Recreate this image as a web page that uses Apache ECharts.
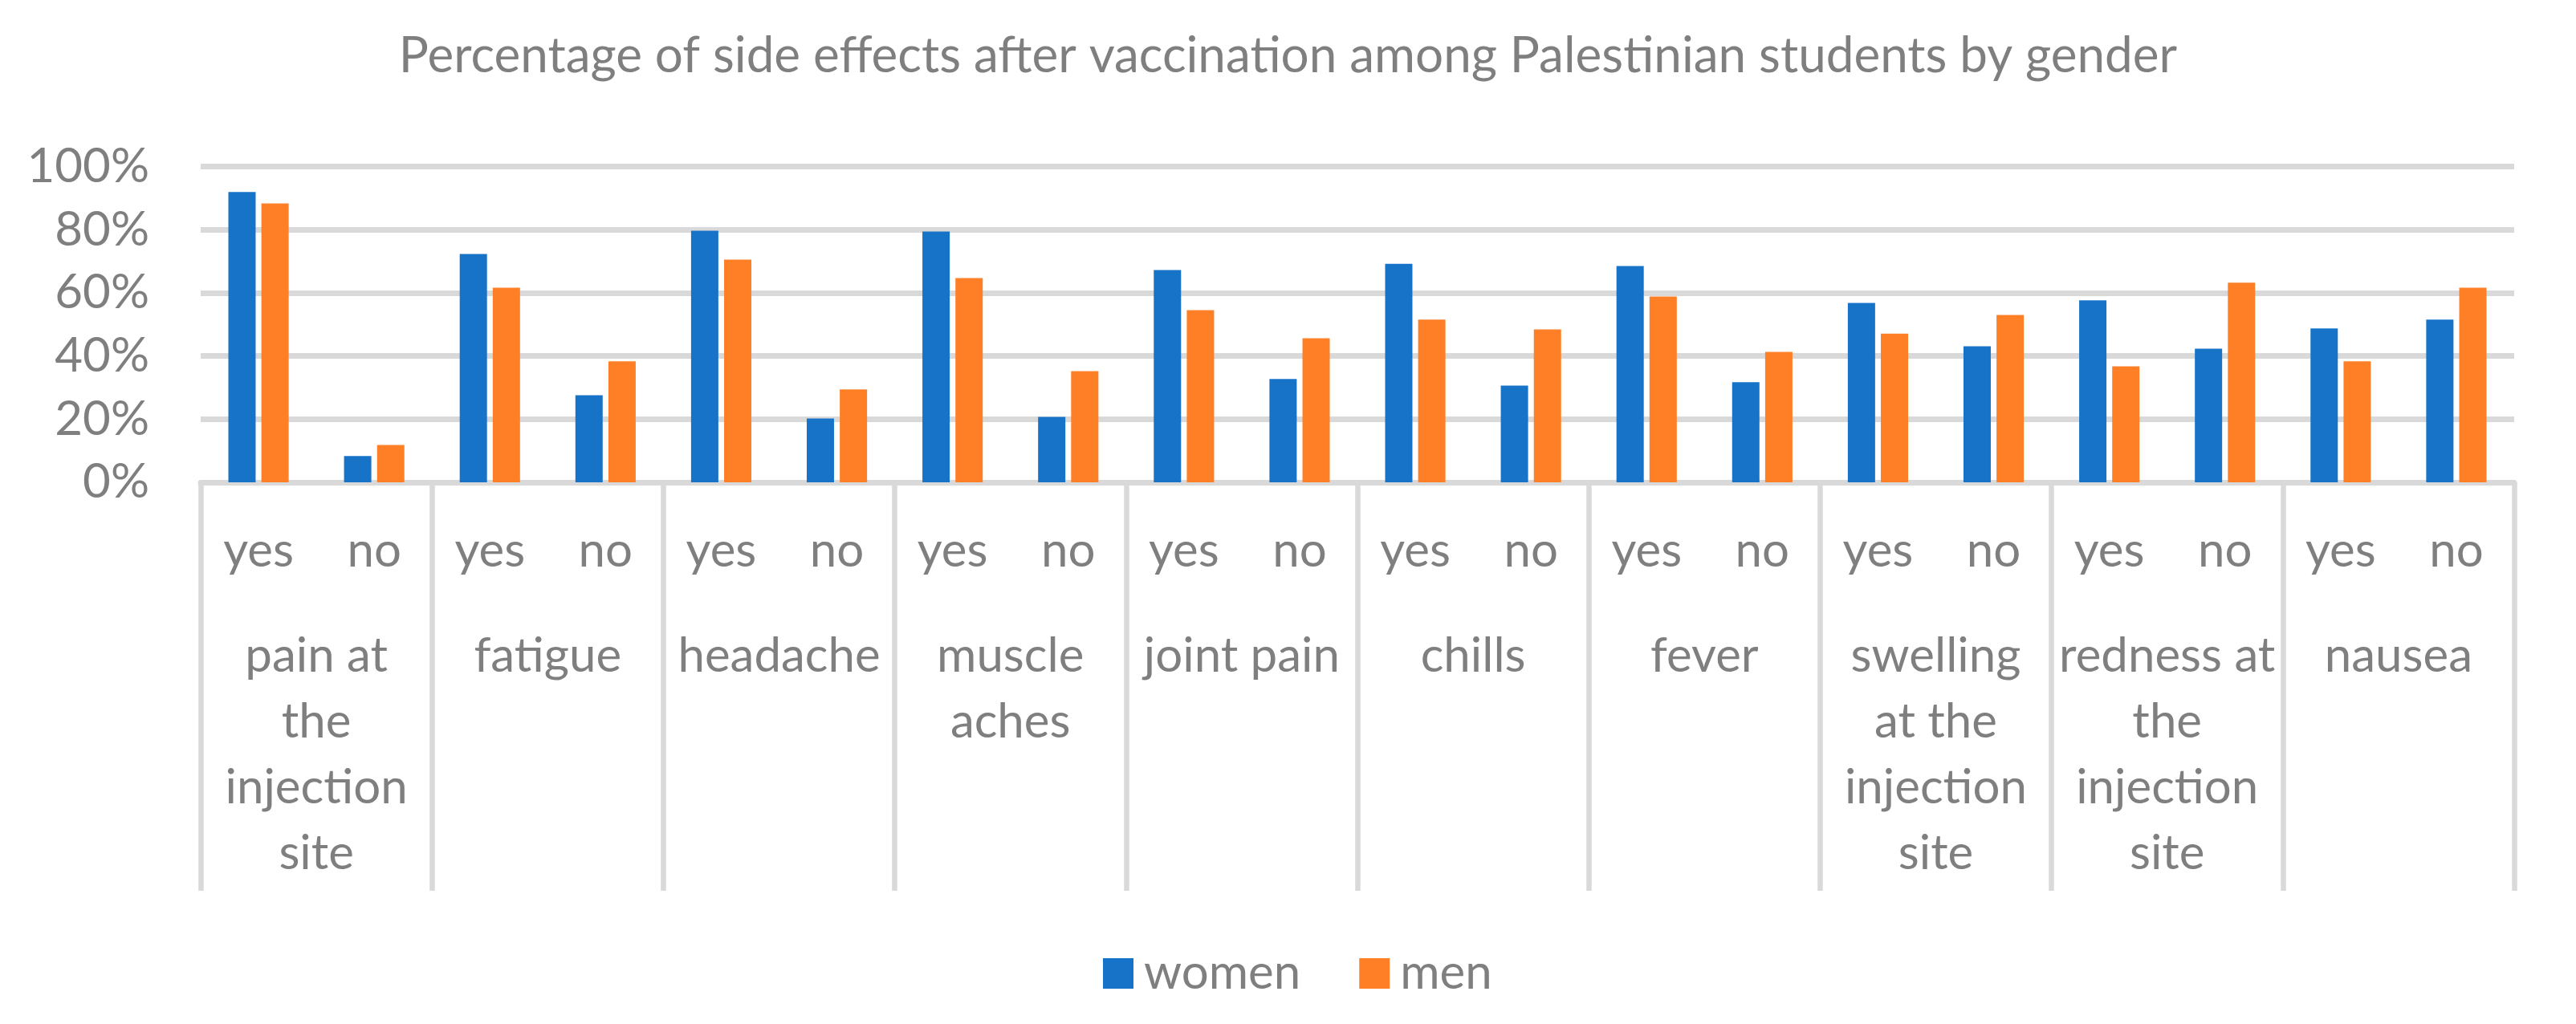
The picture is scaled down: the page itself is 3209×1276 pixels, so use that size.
<!DOCTYPE html>
<html>
<head>
<meta charset="utf-8">
<script src="https://cdn.jsdelivr.net/npm/echarts@6/dist/echarts.min.js"></script>
<style>
html,body{margin:0;padding:0;background:#fff;}
#chart{width:3209px;height:1276px;}
</style>
</head>
<body>
<div id="chart"></div>
<script>
// ---- data ----
var titleText = 'Percentage of side effects after vaccination among Palestinian students by gender';
var groups = ['pain at\nthe\ninjection\nsite', 'fatigue', 'headache', 'muscle\naches', 'joint pain', 'chills', 'fever', 'swelling\nat the\ninjection\nsite', 'redness at\nthe\ninjection\nsite', 'nausea'];
var answers = ['yes', 'no'];
var seriesNames = ['women', 'men'];
var women = [91.9, 8.3, 72.3, 27.6, 79.7, 20.2, 79.4, 20.7, 67.2, 32.7, 69.2, 30.6, 68.5, 31.7, 56.8, 43.1, 57.6, 42.3, 48.7, 51.5];
var men   = [88.3, 11.8, 61.6, 38.3, 70.5, 29.4, 64.7, 35.2, 54.5, 45.6, 51.5, 48.4, 58.8, 41.3, 47.1, 53.0, 36.7, 63.2, 38.3, 61.6];
var yTicks = [0, 20, 40, 60, 80, 100];

// ---- build ----
var subCats = [];
groups.forEach(function () { answers.forEach(function (a) { subCats.push(a); }); });

var FONT = 'Lato';
var TXT = '#7F7F7F';
var GRID = '#D9D9D9';

var chart = echarts.init(document.getElementById('chart'));
chart.setOption({
  backgroundColor: '#ffffff',
  animation: false,
  title: {
    text: titleText,
    left: 'center',
    top: 34,
    textStyle: { fontFamily: FONT, fontSize: 62, fontWeight: 'normal', color: TXT }
  },
  legend: {
    data: seriesNames,
    left: 1369,
    top: 1178,
    icon: 'rect',
    itemWidth: 38,
    itemHeight: 38,
    itemGap: 73,
    textStyle: { fontFamily: FONT, fontSize: 60, color: TXT, padding: [0, 0, 0, 8] }
  },
  grid: { left: 250, right: 77, top: 207.5, bottom: 675, containLabel: false },
  xAxis: [
    {
      type: 'category',
      data: subCats,
      position: 'bottom',
      boundaryGap: true,
      axisLine: { show: true, lineStyle: { color: GRID, width: 7 } },
      axisTick: { show: false },
      axisLabel: { interval: 0, margin: 56, fontFamily: FONT, fontSize: 60, color: TXT }
    },
    {
      type: 'category',
      data: groups,
      position: 'bottom',
      offset: 0,
      boundaryGap: true,
      axisLine: { show: false },
      axisTick: { show: true, length: 509, lineStyle: { color: GRID, width: 6.5 } },
      axisLabel: { interval: 0, margin: 176, fontFamily: FONT, fontSize: 60, lineHeight: 82, color: TXT, align: 'center' }
    }
  ],
  yAxis: {
    type: 'value',
    min: yTicks[0],
    max: yTicks[yTicks.length - 1],
    interval: yTicks[1] - yTicks[0],
    axisLine: { show: false },
    axisTick: { show: false },
    splitLine: { show: true, lineStyle: { color: GRID, width: 7 } },
    axisLabel: { margin: 64, fontFamily: FONT, fontSize: 60, color: TXT, formatter: '{value}%' }
  },
  series: [
    {
      name: seriesNames[0], type: 'bar', xAxisIndex: 0, data: women,
      barWidth: 34, barGap: '21%', itemStyle: { color: '#1773C8' }, z: 1
    },
    {
      name: seriesNames[1], type: 'bar', xAxisIndex: 0, data: men,
      barWidth: 34, barGap: '21%', itemStyle: { color: '#FF7F27' }, z: 1
    }
  ]
});
</script>
</body>
</html>
